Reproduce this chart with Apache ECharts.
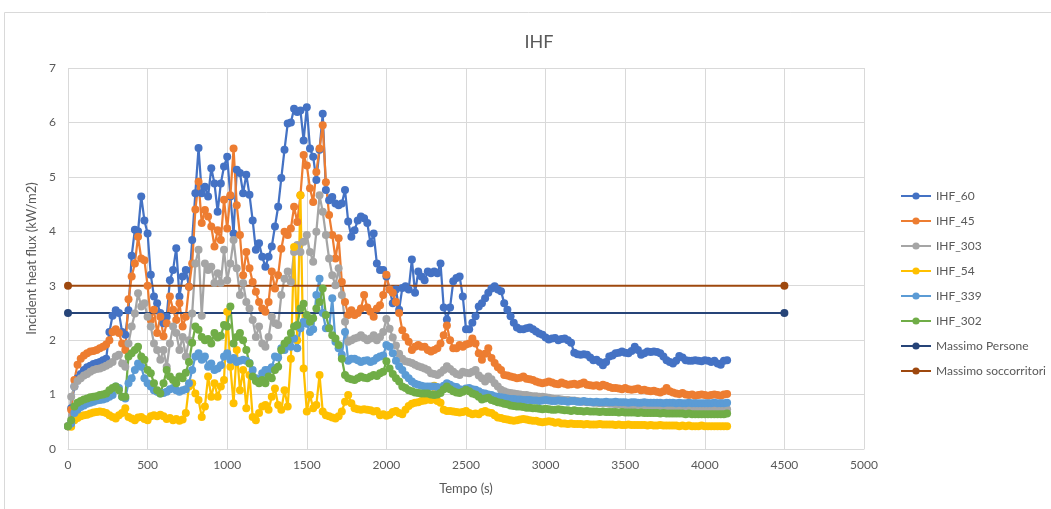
<!DOCTYPE html>
<html>
<head>
<meta charset="utf-8">
<title>IHF</title>
<script src="https://cdn.jsdelivr.net/npm/echarts@6/dist/echarts.min.js"></script>
<style>
  html, body { margin: 0; padding: 0; background: #ffffff; }
  #chart { width: 1051px; height: 509px; }
</style>
</head>
<body>
<div id="chart"></div>
<script>
// Sampling times (s)
const tempo = [
  0,20,40,60,80,100,120,140,160,180,
  200,220,240,260,280,300,320,340,360,380,
  400,420,440,460,480,500,520,540,560,580,
  600,620,640,660,680,700,720,740,760,780,
  800,820,840,860,880,900,920,940,960,980,
  1000,1020,1040,1060,1080,1100,1120,1140,1160,1180,
  1200,1220,1240,1260,1280,1300,1320,1340,1360,1380,
  1400,1420,1440,1460,1480,1500,1520,1540,1560,1580,
  1600,1620,1640,1660,1680,1700,1720,1740,1760,1780,
  1800,1820,1840,1860,1880,1900,1920,1940,1960,1980,
  2000,2020,2040,2060,2080,2100,2120,2140,2160,2180,
  2200,2220,2240,2260,2280,2300,2320,2340,2360,2380,
  2400,2420,2440,2460,2480,2500,2520,2540,2560,2580,
  2600,2620,2640,2660,2680,2700,2720,2740,2760,2780,
  2800,2820,2840,2860,2880,2900,2920,2940,2960,2980,
  3000,3020,3040,3060,3080,3100,3120,3140,3160,3180,
  3200,3220,3240,3260,3280,3300,3320,3340,3360,3380,
  3400,3420,3440,3460,3480,3500,3520,3540,3560,3580,
  3600,3620,3640,3660,3680,3700,3720,3740,3760,3780,
  3800,3820,3840,3860,3880,3900,3920,3940,3960,3980,
  4000,4020,4040,4060,4080,4100,4120,4140
];

// Incident heat flux (kW/m2) at each sampling time
const ihf60 = [
  0.42,0.75,1.15,1.30,1.38,1.45,1.50,1.53,1.56,1.58,
  1.60,1.63,1.66,2.15,2.45,2.55,2.50,2.15,2.10,2.55,
  3.55,4.03,4.00,4.64,4.20,3.96,3.20,2.80,2.68,2.50,
  2.31,2.43,3.10,3.29,3.69,2.80,3.17,3.29,2.98,3.84,
  4.70,5.53,4.70,4.82,4.64,5.16,4.88,4.36,4.88,5.19,
  5.37,4.64,3.96,5.13,5.07,4.70,5.04,4.67,4.20,3.66,
  3.78,3.53,3.35,3.53,3.72,4.09,4.45,4.98,5.50,5.98,
  6.00,6.25,6.19,6.22,5.67,6.28,5.52,5.37,4.94,5.50,
  6.16,4.76,4.57,4.63,4.51,4.48,4.51,4.76,4.18,3.90,
  4.02,4.20,4.27,4.24,4.15,3.78,3.96,3.41,3.29,3.29,
  3.17,2.93,2.68,2.93,2.56,2.96,2.99,2.93,3.48,2.87,
  3.26,3.17,3.10,3.26,3.23,3.26,3.23,3.41,2.60,2.38,
  2.60,3.08,3.14,3.17,2.80,2.20,2.20,2.32,2.44,2.62,
  2.68,2.77,2.87,2.95,2.99,2.93,2.90,2.68,2.56,2.44,
  2.32,2.23,2.20,2.20,2.22,2.23,2.20,2.16,2.12,2.10,
  2.05,2.01,2.03,2.04,2.00,2.02,2.03,2.00,1.95,1.77,
  1.74,1.73,1.74,1.73,1.68,1.63,1.64,1.60,1.54,1.60,
  1.70,1.72,1.76,1.77,1.79,1.77,1.76,1.80,1.88,1.82,
  1.73,1.76,1.79,1.78,1.79,1.78,1.76,1.70,1.63,1.60,
  1.57,1.62,1.71,1.68,1.63,1.62,1.62,1.63,1.62,1.61,
  1.63,1.62,1.60,1.62,1.57,1.55,1.62,1.63
];
const ihf45 = [
  0.42,0.72,1.27,1.55,1.66,1.72,1.76,1.79,1.80,1.82,
  1.85,1.88,1.92,2.00,2.15,2.20,2.13,1.94,1.82,2.75,
  3.17,3.41,3.90,3.50,3.47,3.00,2.37,2.56,2.13,2.43,
  2.07,2.31,2.80,2.56,2.37,2.68,2.25,2.43,2.98,3.41,
  4.40,4.91,4.15,4.39,4.27,4.09,3.72,4.02,3.84,4.58,
  4.05,4.66,5.52,4.48,3.93,3.19,3.62,3.32,3.07,2.89,
  2.70,2.58,2.52,2.70,3.26,2.95,3.19,3.68,3.99,3.93,
  4.05,4.45,4.17,4.66,5.40,5.21,4.79,4.54,5.09,5.52,
  5.95,4.90,4.30,3.93,3.50,3.87,3.07,2.70,2.46,2.55,
  2.46,2.50,2.58,2.83,2.60,2.52,2.43,2.58,2.64,2.83,
  3.20,2.93,2.87,2.70,2.50,2.18,2.06,1.97,1.82,1.88,
  1.91,1.88,1.88,1.82,1.79,1.82,1.85,1.94,2.09,2.27,
  2.00,1.85,1.85,1.91,1.88,1.92,1.94,2.03,1.94,1.76,
  1.64,1.75,1.85,1.67,1.58,1.50,1.45,1.36,1.35,1.33,
  1.32,1.30,1.31,1.33,1.29,1.28,1.27,1.24,1.22,1.21,
  1.22,1.24,1.22,1.20,1.19,1.22,1.20,1.18,1.19,1.20,
  1.18,1.20,1.22,1.18,1.17,1.16,1.17,1.15,1.18,1.16,
  1.14,1.12,1.12,1.11,1.10,1.12,1.10,1.09,1.10,1.11,
  1.08,1.09,1.07,1.06,1.07,1.05,1.04,1.06,1.12,1.06,
  1.04,1.02,1.01,1.03,1.00,0.99,1.00,0.98,0.99,1.00,
  0.99,0.98,0.99,1.00,0.99,0.98,1.00,1.01
];
const ihf303 = [
  0.42,0.96,1.15,1.25,1.30,1.35,1.38,1.42,1.45,1.47,
  1.48,1.50,1.53,1.56,1.60,1.70,1.73,1.57,1.51,1.94,
  2.25,2.49,2.86,2.62,2.68,2.43,2.25,1.94,1.82,1.64,
  1.82,1.51,1.94,2.25,2.13,1.82,2.06,1.70,2.00,2.49,
  3.41,3.66,2.45,3.41,3.29,3.35,3.05,3.23,3.05,3.66,
  3.10,3.41,3.84,3.32,2.83,3.05,2.70,2.58,2.37,2.06,
  2.25,1.94,1.88,2.06,2.43,2.31,2.28,2.83,3.13,3.26,
  3.07,3.62,3.75,3.62,3.81,3.93,3.62,3.44,3.99,4.66,
  4.36,3.93,3.50,3.19,3.01,3.32,2.83,2.34,1.97,2.00,
  2.03,2.05,2.09,2.04,2.00,2.03,2.09,2.00,2.06,2.15,
  2.39,2.21,2.05,1.90,1.75,1.66,1.61,1.60,1.58,1.55,
  1.52,1.50,1.48,1.45,1.39,1.38,1.36,1.40,1.45,1.52,
  1.47,1.42,1.38,1.36,1.42,1.40,1.39,1.42,1.45,1.35,
  1.30,1.24,1.33,1.28,1.21,1.15,1.09,1.06,1.04,1.03,
  1.02,1.01,1.00,0.99,0.99,0.98,0.97,0.97,0.96,0.96,
  0.95,0.94,0.93,0.92,0.92,0.91,0.90,0.90,0.89,0.89,
  0.88,0.87,0.87,0.86,0.86,0.85,0.85,0.84,0.84,0.84,
  0.83,0.83,0.82,0.82,0.81,0.81,0.80,0.80,0.80,0.79,
  0.79,0.79,0.78,0.78,0.78,0.77,0.77,0.77,0.77,0.76,
  0.76,0.76,0.76,0.75,0.75,0.75,0.75,0.75,0.74,0.74,
  0.74,0.74,0.74,0.74,0.73,0.73,0.73,0.73
];
const ihf54 = [
  0.42,0.41,0.53,0.57,0.60,0.62,0.63,0.65,0.67,0.68,
  0.69,0.68,0.66,0.62,0.59,0.56,0.62,0.66,0.75,0.59,
  0.56,0.53,0.58,0.59,0.55,0.53,0.60,0.62,0.60,0.63,
  0.60,0.55,0.57,0.53,0.55,0.52,0.54,0.66,1.15,1.21,
  1.02,0.90,0.59,0.78,1.33,0.96,1.21,0.96,1.15,1.27,
  2.52,1.51,0.84,1.82,1.08,1.45,0.75,1.36,0.59,0.53,
  0.66,0.78,0.81,0.72,0.96,1.11,0.81,0.72,1.08,0.78,
  1.66,3.71,2.00,4.66,1.48,0.69,0.99,0.75,0.81,1.36,
  0.69,0.62,0.60,0.58,0.56,0.60,0.69,0.87,0.99,0.84,
  0.75,0.73,0.72,0.73,0.72,0.71,0.69,0.70,0.62,0.64,
  0.61,0.63,0.68,0.70,0.66,0.64,0.72,0.79,0.83,0.85,
  0.86,0.88,0.89,0.91,0.90,1.16,0.88,0.85,0.72,0.70,
  0.70,0.69,0.68,0.67,0.68,0.70,0.66,0.64,0.65,0.64,
  0.68,0.70,0.67,0.66,0.62,0.58,0.57,0.55,0.54,0.53,
  0.52,0.53,0.54,0.55,0.54,0.53,0.52,0.52,0.50,0.49,
  0.50,0.51,0.50,0.48,0.49,0.47,0.47,0.46,0.47,0.46,
  0.46,0.46,0.45,0.46,0.45,0.45,0.45,0.46,0.45,0.45,
  0.45,0.45,0.44,0.45,0.44,0.44,0.45,0.44,0.44,0.44,
  0.44,0.44,0.43,0.44,0.43,0.43,0.44,0.43,0.43,0.43,
  0.43,0.43,0.42,0.43,0.42,0.43,0.42,0.42,0.42,0.43,
  0.42,0.42,0.42,0.42,0.42,0.42,0.42,0.42
];
const ihf339 = [
  0.42,0.47,0.66,0.72,0.77,0.80,0.83,0.85,0.87,0.89,
  0.90,0.91,0.93,0.96,0.99,1.15,1.12,0.96,0.93,1.21,
  1.30,1.45,1.57,1.51,1.30,1.21,1.15,1.08,1.05,1.02,
  1.03,1.05,1.10,1.12,1.08,1.05,1.08,1.10,1.21,1.45,
  1.70,1.76,1.64,1.70,1.51,1.57,1.45,1.48,1.54,1.70,
  1.76,1.64,1.67,1.60,1.62,1.64,1.62,1.58,1.45,1.30,
  1.27,1.39,1.45,1.45,1.50,1.70,1.68,1.85,1.82,1.97,
  1.88,2.03,1.85,2.22,2.34,2.30,2.15,2.20,2.83,3.13,
  2.50,2.22,2.22,2.77,1.97,1.85,1.73,2.15,1.62,1.66,
  1.66,1.63,1.60,1.62,1.63,1.60,1.62,1.67,1.70,1.72,
  1.91,1.88,1.76,1.62,1.52,1.45,1.36,1.30,1.24,1.20,
  1.18,1.16,1.15,1.15,1.15,1.15,1.14,1.12,1.16,1.21,
  1.18,1.15,1.14,1.10,1.09,1.11,1.12,1.10,1.09,1.06,
  1.03,1.02,1.00,0.99,0.97,0.96,0.95,0.94,0.93,0.92,
  0.92,0.91,0.91,0.90,0.90,0.90,0.89,0.89,0.88,0.89,
  0.90,0.89,0.88,0.88,0.89,0.88,0.88,0.87,0.88,0.88,
  0.87,0.87,0.88,0.87,0.87,0.86,0.87,0.86,0.86,0.87,
  0.86,0.86,0.87,0.86,0.86,0.86,0.85,0.86,0.86,0.85,
  0.85,0.86,0.85,0.85,0.85,0.85,0.85,0.84,0.85,0.85,
  0.85,0.84,0.85,0.84,0.84,0.85,0.84,0.84,0.84,0.84,
  0.84,0.84,0.84,0.85,0.84,0.84,0.84,0.85
];
const ihf302 = [
  0.42,0.53,0.78,0.85,0.88,0.91,0.93,0.95,0.96,0.97,
  0.99,1.00,1.02,1.08,1.12,1.15,1.08,0.96,0.96,1.70,
  1.76,1.82,1.88,1.70,1.64,1.45,1.39,1.21,1.08,1.02,
  1.21,1.45,1.33,1.27,1.21,1.33,1.30,1.40,1.60,1.95,
  2.25,2.19,2.06,2.00,2.02,1.94,2.13,2.05,2.08,2.28,
  2.25,2.62,1.94,2.06,2.13,2.00,1.82,1.57,1.33,1.25,
  1.21,1.27,1.21,1.33,1.30,1.45,1.51,1.82,1.94,2.00,
  2.13,2.25,2.28,2.58,2.67,2.46,2.34,2.40,2.58,2.70,
  2.95,2.46,2.22,2.09,2.03,1.91,1.66,1.36,1.30,1.28,
  1.27,1.30,1.33,1.31,1.30,1.33,1.36,1.34,1.39,1.42,
  1.61,1.48,1.38,1.30,1.24,1.15,1.12,1.08,1.06,1.04,
  1.03,1.02,1.02,1.02,1.00,0.99,1.00,1.03,1.10,1.15,
  1.10,1.06,1.04,1.03,1.05,1.09,1.06,1.02,1.00,0.96,
  0.91,0.93,0.94,0.90,0.88,0.86,0.85,0.83,0.82,0.80,
  0.79,0.78,0.78,0.77,0.76,0.76,0.75,0.75,0.74,0.73,
  0.74,0.73,0.72,0.72,0.73,0.72,0.71,0.71,0.70,0.71,
  0.70,0.70,0.69,0.70,0.69,0.69,0.69,0.68,0.69,0.68,
  0.68,0.68,0.68,0.67,0.68,0.67,0.67,0.67,0.67,0.66,
  0.67,0.66,0.66,0.66,0.66,0.66,0.65,0.66,0.65,0.65,
  0.65,0.65,0.65,0.65,0.64,0.65,0.64,0.64,0.64,0.64,
  0.64,0.64,0.64,0.64,0.64,0.64,0.64,0.65
];

// Threshold lines: endpoints in time and their constant values
const sogliaTempo = [0, 4500];
const massimoPersone = [2.5, 2.5];
const massimoSoccorritori = [3, 3];

const xTicks = [0, 500, 1000, 1500, 2000, 2500, 3000, 3500, 4000, 4500, 5000];
const yTicks = [0, 1, 2, 3, 4, 5, 6, 7];

const seriesNames = ['IHF_60', 'IHF_45', 'IHF_303', 'IHF_54', 'IHF_339', 'IHF_302', 'Massimo Persone', 'Massimo soccorritori'];
const seriesColors = ['#4472C4', '#ED7D31', '#A5A5A5', '#FFC000', '#5B9BD5', '#70AD47', '#264478', '#9E480E'];

const FONT = '"Liberation Sans Narrow", Lato, "Open Sans", sans-serif';
const TEXT_GREY = '#595959';

function pairs(xs, ys) { return xs.map((x, i) => [x, ys[i]]); }

const measured = [ihf60, ihf45, ihf303, ihf54, ihf339, ihf302];
const series = measured.map((vals, k) => ({
  name: seriesNames[k],
  type: 'line',
  data: pairs(tempo, vals),
  showSymbol: true,
  showAllSymbol: true,
  symbol: 'circle',
  symbolSize: 8,
  lineStyle: { width: 2.25, color: seriesColors[k] },
  itemStyle: { color: seriesColors[k] },
  emphasis: { disabled: true }
}));
[massimoPersone, massimoSoccorritori].forEach((vals, j) => {
  const k = 6 + j;
  series.push({
    name: seriesNames[k],
    type: 'line',
    data: pairs(sogliaTempo, vals),
    symbol: 'circle',
    symbolSize: 8,
    lineStyle: { width: 2, color: seriesColors[k] },
    itemStyle: { color: seriesColors[k] },
    emphasis: { disabled: true }
  });
});

const chart = echarts.init(document.getElementById('chart'), null, { renderer: 'canvas' });
chart.setOption({
  animation: false,
  backgroundColor: '#ffffff',
  color: seriesColors,
  title: {
    text: 'IHF',
    left: 534, top: 28, textAlign: 'center',
    textStyle: { color: TEXT_GREY, fontSize: 18, fontWeight: 'normal', fontFamily: FONT }
  },
  graphic: [{
    type: 'rect',
    shape: { x: 4.5, y: 12.5, width: 1100, height: 600 },
    style: { fill: 'none', stroke: '#d9d9d9', lineWidth: 1 },
    silent: true, z: -1
  }],
  legend: {
    orient: 'vertical',
    left: 895, top: 184,
    itemWidth: 30, itemHeight: 9, itemGap: 11,
    data: seriesNames,
    textStyle: { color: TEXT_GREY, fontSize: 12, fontFamily: FONT, lineHeight: 14 },
    selectedMode: false
  },
  grid: { left: 68, right: 187, top: 68, bottom: 60, containLabel: false },
  xAxis: {
    type: 'value',
    min: xTicks[0], max: xTicks[xTicks.length - 1], interval: 500,
    name: 'Tempo (s)', nameLocation: 'middle', nameGap: 33,
    nameTextStyle: { color: TEXT_GREY, fontSize: 13, fontFamily: FONT },
    axisLine: { show: true, lineStyle: { color: '#d9d9d9', width: 1 } },
    axisTick: { show: false },
    axisLabel: { color: TEXT_GREY, fontSize: 12, fontFamily: FONT, margin: 10, formatter: v => String(v) },
    splitLine: { show: true, lineStyle: { color: '#d9d9d9', width: 1 } }
  },
  yAxis: {
    type: 'value',
    min: yTicks[0], max: yTicks[yTicks.length - 1], interval: 1,
    name: 'Incident heat flux (kW/m2)', nameLocation: 'middle', nameGap: 21,
    nameTextStyle: { color: TEXT_GREY, fontSize: 13, fontFamily: FONT },
    axisLine: { show: false },
    axisTick: { show: false },
    axisLabel: { color: TEXT_GREY, fontSize: 12, fontFamily: FONT, margin: 12, formatter: v => String(v) },
    splitLine: { show: true, lineStyle: { color: '#d9d9d9', width: 1 } }
  },
  series: series
});
</script>
</body>
</html>
